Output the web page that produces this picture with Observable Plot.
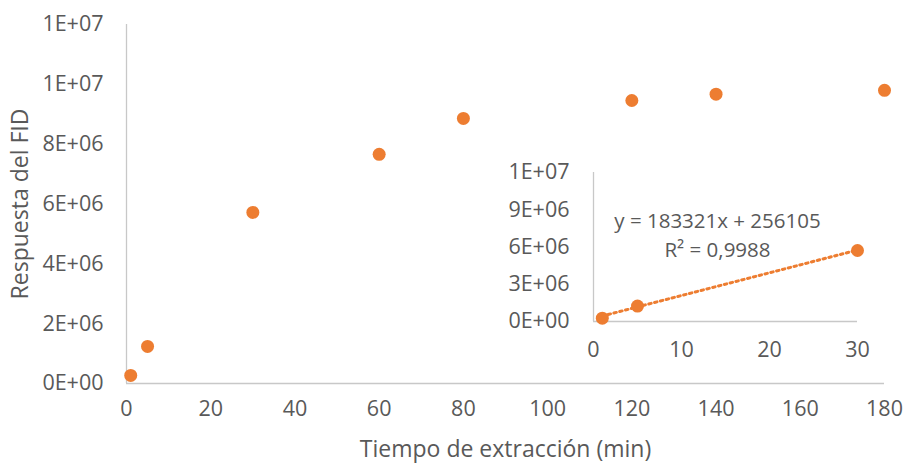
<!DOCTYPE html>
<html>
<head>
<meta charset="utf-8">
<script src="https://cdn.jsdelivr.net/npm/d3@7"></script>
<script src="https://cdn.jsdelivr.net/npm/@observablehq/plot@0.6"></script>
<style>
  html, body { margin: 0; padding: 0; background: #fff; }
  #wrap { position: relative; width: 905px; height: 468px; }
  #wrap svg { position: absolute; left: 0; top: 0; }
</style>
</head>
<body>
<div id="wrap"></div>
<script>
// ---- Data ----
const times = [1, 5, 30, 60, 80, 120, 140, 180];
const responses = [270000, 1240000, 5720000, 7660000, 8860000, 9460000, 9670000, 9800000];
const insetTimes = [1, 5, 30];
const insetResponses = [270000, 1240000, 5720000];

const xTicks = [0, 20, 40, 60, 80, 100, 120, 140, 160, 180];
const yTicks = [0, 2e6, 4e6, 6e6, 8e6, 1e7, 1.2e7];
const yTickLabels = ["0E+00", "2E+06", "4E+06", "6E+06", "8E+06", "1E+07", "1E+07"];
const insetXTicks = [0, 10, 20, 30];
const insetYTicks = [0, 3e6, 6e6, 9e6, 1.2e7];
const insetYTickLabels = ["0E+00", "3E+06", "6E+06", "9E+06", "1E+07"];

const slope = 183321;
const intercept = 256105;
const trendX = [1, 30];
const equationText = "y = 183321x + 256105";
const r2Text = "R² = 0,9988";
const xTitle = "Tiempo de extracción (min)";
const yTitle = "Respuesta del FID";

const orange = "#ED7D31";
const textColor = "#595959";
const axisColor = "#c8c8c8";
const font = "'Open Sans', sans-serif";
const tickFs = 21.5;
const titleFs = 23;
const eqFs = 20.5;

const mainData = times.map((t, i) => ({t, v: responses[i]}));
const insetData = insetTimes.map((t, i) => ({t, v: insetResponses[i]}));
const trendData = trendX.map(t => ({t, v: slope * t + intercept}));

const main = Plot.plot({
  width: 905, height: 468,
  marginLeft: 126, marginRight: 21, marginTop: 24, marginBottom: 85,
  style: {fontFamily: font, fontSize: "20px", color: textColor, background: "transparent", overflow: "visible"},
  x: {domain: [0, 180], label: null},
  y: {domain: [0, 1.2e7], label: null},
  marks: [
    Plot.ruleY([0], {stroke: axisColor, strokeWidth: 1.3}),
    Plot.ruleX([0], {stroke: axisColor, strokeWidth: 1.3}),
    Plot.axisX(xTicks, {tickSize: 0, tickPadding: 17, fontSize: tickFs, fill: textColor, label: null}),
    Plot.axisY(yTicks, {tickSize: 0, tickPadding: 23, fontSize: tickFs, fill: textColor, label: null,
      tickFormat: (d) => yTickLabels[yTicks.indexOf(d)]}),
    Plot.dot(mainData, {x: "t", y: "v", r: 6.5, fill: orange, stroke: null}),
    Plot.text([xTitle], {frameAnchor: "bottom", dy: 73, fontSize: titleFs, fill: textColor}),
    Plot.text([yTitle], {frameAnchor: "left", textAnchor: "middle", dx: -106, rotate: -90, fontSize: titleFs, fill: textColor})
  ]
});

const inset = Plot.plot({
  width: 905, height: 468,
  marginLeft: 593, marginRight: 48, marginTop: 172, marginBottom: 147,
  style: {fontFamily: font, fontSize: "20px", color: textColor, background: "transparent", overflow: "visible"},
  x: {domain: [0, 30], label: null},
  y: {domain: [0, 1.2e7], label: null},
  marks: [
    Plot.ruleY([0], {stroke: axisColor, strokeWidth: 1.3}),
    Plot.ruleX([0], {stroke: axisColor, strokeWidth: 1.3}),
    Plot.axisX(insetXTicks, {tickSize: 0, tickPadding: 20, fontSize: tickFs, fill: textColor, label: null}),
    Plot.axisY(insetYTicks, {tickSize: 0, tickPadding: 24, fontSize: tickFs, fill: textColor, label: null,
      tickFormat: (d) => insetYTickLabels[insetYTicks.indexOf(d)]}),
    Plot.line(trendData, {x: "t", y: "v", stroke: orange, strokeWidth: 3, strokeDasharray: "2.5,3.5"}),
    Plot.dot(insetData, {x: "t", y: "v", r: 6.5, fill: orange, stroke: null}),
    Plot.text([equationText], {frameAnchor: "top", dx: -8, dy: 41, fontSize: eqFs, fill: textColor}),
    Plot.text([r2Text], {frameAnchor: "top", dx: -8, dy: 70, fontSize: eqFs, fill: textColor})
  ]
});

const wrap = document.getElementById("wrap");
wrap.appendChild(main);
wrap.appendChild(inset);
</script>
</body>
</html>
